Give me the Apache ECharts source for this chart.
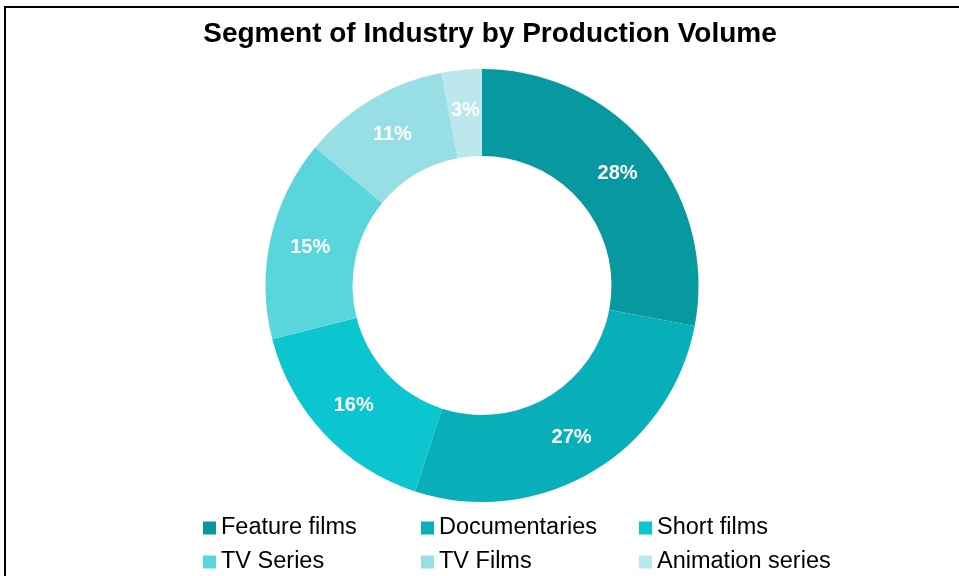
<!DOCTYPE html>
<html>
<head>
<meta charset="utf-8">
<script src="https://cdn.jsdelivr.net/npm/echarts@6/dist/echarts.min.js"></script>
<style>
  html, body { margin: 0; padding: 0; background: #fff; }
  #main { width: 959px; height: 576px; }
</style>
</head>
<body>
<div id="main"></div>
<script>
// segments and their share of production volume (%)
var segments = ['Feature films', 'Documentaries', 'Short films', 'TV Series', 'TV Films', 'Animation series'];
var shares = [28, 27, 16, 15, 11, 3];
var colors = ['#07999f', '#09afb8', '#0bc6cf', '#59d5dc', '#97dfe4', '#bce7ec'];

var chart = echarts.init(document.getElementById('main'));

var pieData = segments.map(function (name, i) {
  return { name: name, value: shares[i], itemStyle: { color: colors[i] } };
});

var option = {
  animation: false,
  backgroundColor: '#fff',
  title: {
    text: 'Segment of Industry by Production Volume',
    left: 485,
    textAlign: 'center',
    top: 15,
    textStyle: {
      fontFamily: 'Liberation Sans, Arial',
      fontSize: 28,
      fontWeight: 'bold',
      color: '#000'
    }
  },
  legend: {
    data: segments,
    left: 198,
    top: 511,
    width: 700,
    orient: 'horizontal',
    icon: 'rect',
    itemWidth: 13,
    itemHeight: 13,
    itemGap: 10,
    selectedMode: false,
    textStyle: {
      fontFamily: 'Liberation Sans, Arial',
      fontSize: 23.5,
      color: '#000',
      width: 190,
      lineHeight: 23
    }
  },
  graphic: [{
    // chart frame (only top and left edges are visible)
    type: 'rect',
    shape: { x: 5, y: 7, width: 1000, height: 1000 },
    style: { fill: 'none', stroke: '#000', lineWidth: 2 },
    silent: true
  }],
  series: [{
    type: 'pie',
    center: [482, 285.5],
    radius: [129.5, 216.5],
    startAngle: 90,
    clockwise: true,
    avoidLabelOverlap: false,
    label: {
      show: true,
      position: 'inside',
      formatter: '{c}%',
      color: '#fff',
      fontFamily: 'Liberation Sans, Arial',
      fontSize: 20,
      fontWeight: 'bold'
    },
    labelLine: { show: false },
    itemStyle: { borderWidth: 0 },
    emphasis: { disabled: true },
    data: pieData
  }]
};

chart.setOption(option);
</script>
</body>
</html>
